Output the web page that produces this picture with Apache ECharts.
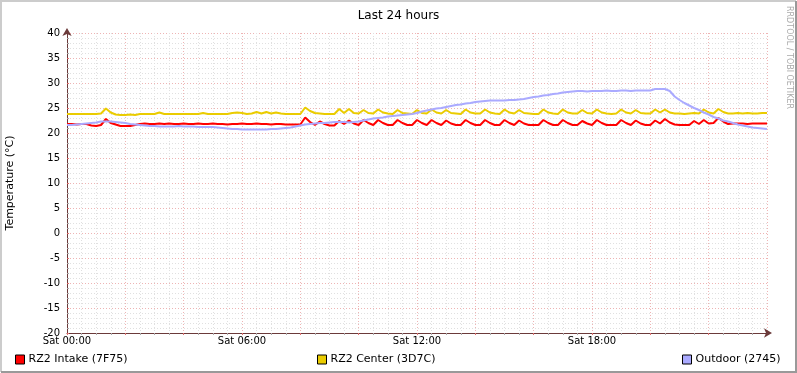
<!DOCTYPE html>
<html>
<head>
<meta charset="utf-8">
<title>Last 24 hours</title>
<script src="https://cdn.jsdelivr.net/npm/echarts@6/dist/echarts.min.js"></script>
<style>
  html, body { margin: 0; padding: 0; background: #fff; }
  #chart { width: 797px; height: 373px; }
</style>
</head>
<body>
<div id="chart"></div>
<script>
// samples every 10 minutes, Sat 00:00 .. Sun 00:00
var stepMinutes = 10

var seriesNames = ['RZ2 Intake (7F75)', 'RZ2 Center (3D7C)', 'Outdoor (2745)']
var seriesColors = ['#ff0000', '#eacc00', '#aaaaff']

var intake = [
  21.8, 21.8, 21.7, 21.8, 21.8, 21.5, 21.4, 21.6, 22.8, 22.0,
  21.7, 21.4, 21.4, 21.4, 21.6, 21.8, 21.9, 21.8, 21.8, 21.9,
  21.8, 21.9, 21.8, 21.8, 21.9, 21.8, 21.8, 21.9, 21.8, 21.8,
  21.9, 21.8, 21.8, 21.7, 21.8, 21.8, 21.9, 21.8, 21.8, 21.9,
  21.8, 21.8, 21.7, 21.8, 21.8, 21.7, 21.7, 21.7, 21.7, 23.1,
  22.2, 21.6, 22.3, 21.8, 21.5, 21.5, 22.4, 21.8, 22.5, 21.9,
  21.6, 22.6, 22.0, 21.6, 22.6, 22.0, 21.6, 21.6, 22.6, 22.0,
  21.6, 21.6, 22.6, 22.0, 21.6, 22.6, 22.0, 21.6, 22.5, 21.9,
  21.6, 21.6, 22.6, 22.0, 21.6, 21.6, 22.6, 22.0, 21.6, 21.6,
  22.6, 22.0, 21.6, 22.5, 21.9, 21.6, 21.6, 21.6, 22.6, 22.0,
  21.6, 21.6, 22.6, 22.0, 21.6, 21.6, 22.4, 21.9, 21.6, 22.6,
  22.0, 21.6, 21.6, 21.6, 22.6, 22.0, 21.6, 22.5, 21.9, 21.6,
  21.6, 22.5, 21.9, 22.8, 22.1, 21.7, 21.6, 21.6, 21.6, 22.4,
  21.8, 22.6, 21.9, 22.0, 23.0, 22.3, 21.8, 21.9, 21.9, 21.9,
  21.8, 21.9, 21.9, 21.9, 21.9
]

var center = [
  23.8, 23.8, 23.8, 23.8, 23.8, 23.8, 23.8, 23.9, 24.9, 24.1,
  23.7, 23.6, 23.6, 23.7, 23.6, 23.8, 23.8, 23.8, 23.8, 24.1,
  23.8, 23.8, 23.8, 23.8, 23.8, 23.8, 23.8, 23.8, 24.0, 23.8,
  23.8, 23.8, 23.8, 23.8, 24.0, 24.1, 24.0, 23.8, 23.9, 24.2,
  23.9, 24.2, 23.9, 24.1, 23.9, 23.8, 23.8, 23.8, 23.8, 25.1,
  24.4, 24.0, 23.9, 23.8, 23.8, 23.8, 24.8, 24.0, 24.8, 24.0,
  23.9, 24.6, 24.0, 23.9, 24.7, 24.1, 23.9, 23.8, 24.6, 24.0,
  23.9, 23.8, 24.6, 24.0, 23.9, 24.7, 24.1, 23.9, 24.6, 24.0,
  23.9, 23.8, 24.7, 24.1, 23.9, 23.9, 24.7, 24.1, 23.9, 23.8,
  24.7, 24.1, 23.9, 24.6, 24.0, 23.9, 23.8, 23.8, 24.7, 24.1,
  23.9, 23.8, 24.7, 24.1, 23.9, 23.9, 24.6, 24.0, 23.9, 24.7,
  24.1, 23.9, 23.8, 23.9, 24.7, 24.1, 23.9, 24.6, 24.0, 23.9,
  23.9, 24.7, 24.1, 24.7, 24.1, 23.9, 23.9, 23.8, 23.9, 24.0,
  23.9, 24.7, 24.1, 23.9, 24.8, 24.2, 23.9, 23.9, 24.0, 23.9,
  24.0, 23.9, 23.9, 24.0, 24.0
]

var outdoor = [
  21.6, 21.6, 21.7, 21.8, 21.9, 22.0, 22.1, 22.3, 22.3, 22.3,
  22.2, 22.1, 22.0, 21.8, 21.7, 21.6, 21.5, 21.4, 21.4, 21.3,
  21.3, 21.3, 21.3, 21.4, 21.3, 21.3, 21.3, 21.2, 21.2, 21.2,
  21.2, 21.1, 21.0, 20.9, 20.8, 20.8, 20.7, 20.7, 20.7, 20.7,
  20.7, 20.7, 20.8, 20.8, 20.9, 21.0, 21.1, 21.3, 21.5, 21.7,
  21.8, 21.9, 22.0, 22.0, 22.1, 22.2, 22.2, 22.2, 22.1, 22.2,
  22.3, 22.5, 22.7, 22.9, 23.0, 23.1, 23.3, 23.4, 23.5, 23.6,
  23.7, 23.8, 24.0, 24.3, 24.5, 24.7, 24.9, 25.0, 25.2, 25.4,
  25.6, 25.7, 25.9, 26.0, 26.2, 26.3, 26.4, 26.5, 26.5, 26.5,
  26.5, 26.6, 26.6, 26.7, 26.8, 27.0, 27.2, 27.3, 27.5, 27.6,
  27.8, 27.9, 28.1, 28.2, 28.3, 28.4, 28.4, 28.3, 28.4, 28.4,
  28.4, 28.5, 28.4, 28.4, 28.5, 28.5, 28.4, 28.5, 28.5, 28.5,
  28.5, 28.8, 28.8, 28.8, 28.4, 27.3, 26.6, 26.0, 25.5, 25.0,
  24.6, 24.1, 23.7, 23.2, 22.9, 22.5, 22.3, 22.0, 21.7, 21.5,
  21.3, 21.1, 21.0, 20.9, 20.8
]

// x tick labels (hours since start)
var xLabelHours = [0, 6, 12, 18]
var xLabels = ['Sat 00:00', 'Sat 06:00', 'Sat 12:00', 'Sat 18:00']

var font = 'DejaVu Sans'
var majorGrid = '#eeb4b4'
var minorGrid = '#e0e0e0'
var axisColor = '#6b3a3a'

function toPoints (values) {
  return values.map(function (v, i) {
    return [i * stepMinutes / 60, v]
  })
}

var chart = echarts.init(document.getElementById('chart'))

var series = [intake, center, outdoor].map(function (values, k) {
  return {
    name: seriesNames[k],
    type: 'line',
    data: toPoints(values),
    symbol: 'none',
    showSymbol: false,
    animation: false,
    color: seriesColors[k],
    lineStyle: { width: 2, color: seriesColors[k] },
    z: 3 + k
  }
})

function legendAt (k, left) {
  return {
    data: [seriesNames[k]],
    left: left,
    top: 354,
    padding: 0,
    icon: 'rect',
    itemWidth: 9,
    itemHeight: 9,
    itemGap: 0,
    itemStyle: { borderColor: '#000', borderWidth: 1 },
    textStyle: { fontFamily: font, fontSize: 11, color: '#000', padding: [0, 0, 0, -1] },
    selectedMode: false
  }
}

chart.setOption({
  backgroundColor: '#fff',
  animation: false,
  title: {
    text: 'Last 24 hours',
    left: 'center',
    top: 5,
    textStyle: { fontFamily: font, fontSize: 12, fontWeight: 'normal', color: '#000' }
  },
  legend: [legendAt(0, 15), legendAt(1, 317), legendAt(2, 682)],
  grid: { left: 67, right: 30, top: 33, bottom: 40, containLabel: false, outerBoundsMode: 'none' },
  xAxis: {
    type: 'value',
    min: 0,
    max: 24,
    interval: 2,
    axisLine: {
      show: true,
      onZero: false,
      lineStyle: { color: axisColor, width: 1 },
      symbol: ['none', 'arrow'],
      symbolSize: [7, 8],
      symbolOffset: [0, 5]
    },
    axisTick: { show: true, length: 2, lineStyle: { color: '#e07070' } },
    minorTick: { show: true, splitNumber: 4, length: 2, lineStyle: { color: '#aaaaaa' } },
    axisLabel: {
      fontFamily: font,
      fontSize: 10,
      color: '#000',
      margin: 3,
      showMaxLabel: false,
      formatter: function (v) {
        var idx = xLabelHours.indexOf(v)
        return idx >= 0 ? xLabels[idx] : ''
      }
    },
    splitLine: { show: true, lineStyle: { color: majorGrid, type: [1, 2] } },
    minorSplitLine: { show: true, lineStyle: { color: minorGrid, type: [1, 2] } }
  },
  yAxis: {
    type: 'value',
    min: -20,
    max: 40,
    interval: 5,
    name: 'Temperature (°C)',
    nameLocation: 'middle',
    nameGap: 51,
    nameTextStyle: { fontFamily: font, fontSize: 11, color: '#000' },
    axisLine: {
      show: true,
      onZero: false,
      lineStyle: { color: axisColor, width: 1 },
      symbol: ['none', 'arrow'],
      symbolSize: [7, 8],
      symbolOffset: [0, 5]
    },
    axisTick: { show: true, inside: true, length: 2, lineStyle: { color: '#e07070' } },
    minorTick: { show: true, splitNumber: 5, length: 2, lineStyle: { color: '#aaaaaa' } },
    axisLabel: { fontFamily: font, fontSize: 10, color: '#000', margin: 7 },
    splitLine: { show: true, lineStyle: { color: majorGrid, type: [1, 2] } },
    minorSplitLine: { show: true, lineStyle: { color: minorGrid, type: [1, 2] } }
  },
  graphic: [
    {
      type: 'text',
      x: 793,
      y: 6,
      rotation: -Math.PI / 2,
      style: { text: 'RRDTOOL / TOBI OETIKER', fontFamily: font, fontSize: 8, fill: '#aaaaaa' }
    },
    {
      type: 'polyline',
      shape: { points: [[1, 372], [1, 1], [796, 1]] },
      style: { stroke: '#cccccc', lineWidth: 2, fill: null }
    },
    {
      type: 'polyline',
      shape: { points: [[796, 1], [796, 372], [1, 372]] },
      style: { stroke: '#999999', lineWidth: 2, fill: null }
    }
  ],
  series: series
})
</script>
</body>
</html>
